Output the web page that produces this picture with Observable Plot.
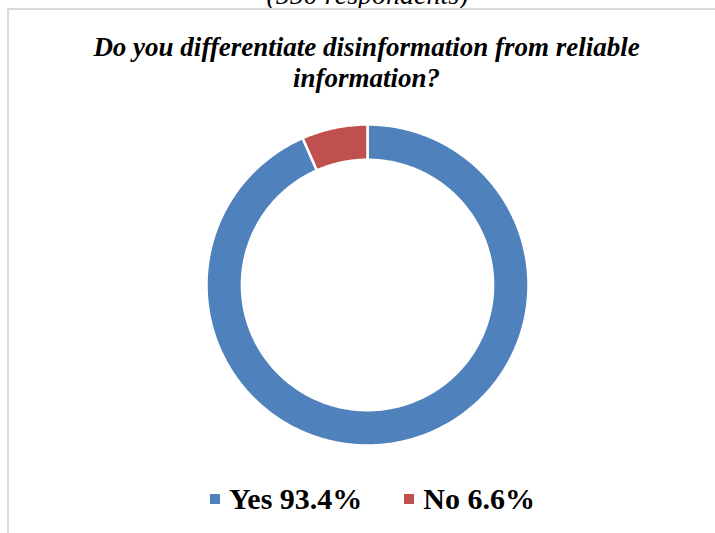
<!DOCTYPE html>
<html>
<head>
<meta charset="utf-8">
<script src="https://cdn.jsdelivr.net/npm/d3@7"></script>
<script src="https://cdn.jsdelivr.net/npm/@observablehq/plot@0.6"></script>
<style>
  html, body { margin: 0; padding: 0; background: #fff; width: 715px; height: 533px; overflow: hidden; }
  body { position: relative; font-family: "Liberation Serif", "Times New Roman", serif; }
  #frame { position: absolute; left: 7px; top: 8px; width: 720px; height: 540px; border-left: 2px solid #d9d9d9; border-top: 2px solid #d9d9d9; box-sizing: border-box; }
  #above { position: absolute; left: 0; width: 735px; top: -19px; text-align: center; font-style: italic; font-size: 28px; line-height: 28px; color: #000; }
  #title { position: absolute; left: 0; width: 733px; top: 32px; text-align: center; font-weight: bold; font-style: italic; font-size: 27px; line-height: 31px; color: #000; }
  #chart { position: absolute; left: 0; top: 105px; }
  #legend { position: absolute; left: 0; top: 484px; width: 745px; display: flex; justify-content: center; gap: 42px; font-weight: bold; font-size: 30px; line-height: 30px; color: #000; }
  .item { display: flex; align-items: center; }
  .sw { width: 10px; height: 10px; margin-right: 9px; }
</style>
</head>
<body>
<div id="above">(550 respondents)</div>
<div id="frame"></div>
<div id="title">Do you differentiate disinformation from reliable<br>information?</div>
<div id="chart"></div>
<div id="legend"></div>
<script>
const categories = ["Yes", "No"];
const values = [93.4, 6.6];
const colors = ["#4F81BD", "#C0504D"];
const labels = ["Yes 93.4%", "No 6.6%"];

// Build ring-slice polygons from the data (angles derived from the values)
const outerR = 1, innerR = 0.78;
const total = d3.sum(values);
const rows = [];
let acc = 0;
categories.forEach((cat, i) => {
  const a0 = acc / total * 2 * Math.PI;
  acc += values[i];
  const a1 = acc / total * 2 * Math.PI;
  const n = Math.max(8, Math.ceil((a1 - a0) / 0.01));
  const pts = [];
  for (let k = 0; k <= n; k++) {
    const a = a0 + (a1 - a0) * k / n;
    pts.push({cat, x: outerR * Math.sin(a), y: outerR * Math.cos(a)});
  }
  for (let k = n; k >= 0; k--) {
    const a = a0 + (a1 - a0) * k / n;
    pts.push({cat, x: innerR * Math.sin(a), y: innerR * Math.cos(a)});
  }
  pts.push(pts[0]);
  rows.push(...pts);
});

const plot = Plot.plot({
  width: 715,
  height: 360,
  marginLeft: 206,
  marginRight: 715 - 528,
  marginTop: 19,
  marginBottom: 360 - 340,
  x: {domain: [-1, 1], axis: null},
  y: {domain: [-1, 1], axis: null},
  color: {domain: categories, range: colors},
  marks: [
    Plot.line(rows, {x: "x", y: "y", z: "cat", fill: "cat", stroke: "white", strokeWidth: 2.5, curve: "linear"})
  ]
});
document.getElementById("chart").appendChild(plot);

const legend = document.getElementById("legend");
categories.forEach((c, i) => {
  const it = document.createElement("div");
  it.className = "item";
  const sw = document.createElement("span");
  sw.className = "sw";
  sw.style.background = colors[i];
  const t = document.createElement("span");
  t.textContent = labels[i];
  it.appendChild(sw); it.appendChild(t);
  legend.appendChild(it);
});
</script>
</body>
</html>
